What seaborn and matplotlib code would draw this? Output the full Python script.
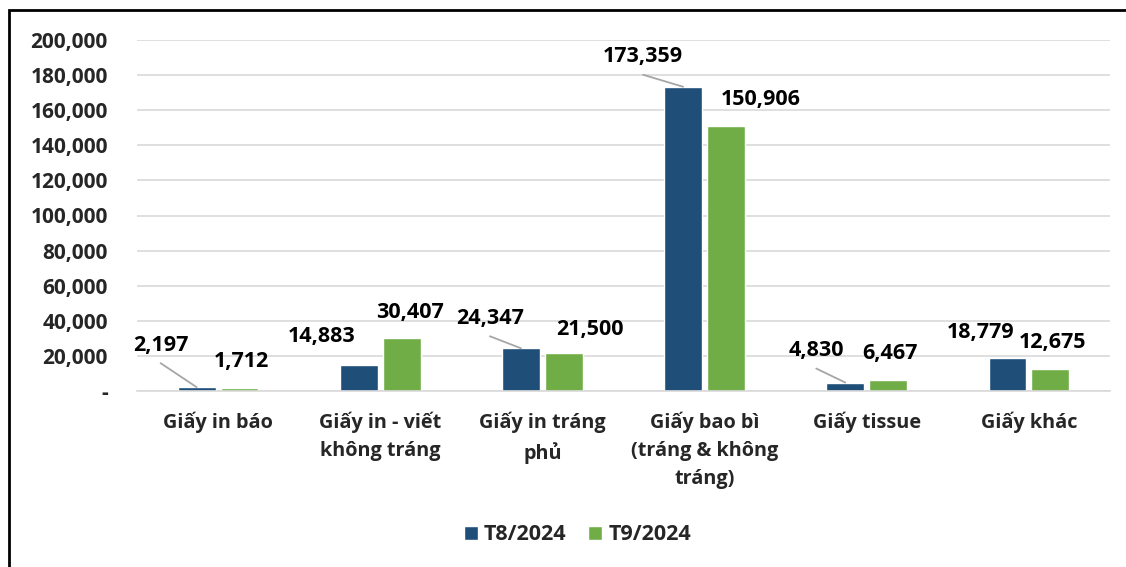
import matplotlib
matplotlib.use("Agg")
import matplotlib.pyplot as plt
import pandas as pd
import seaborn as sns
from matplotlib.patches import Rectangle

# số liệu (tấn)
categories = [
    "Giấy in báo",
    "Giấy in - viết\nkhông tráng",
    "Giấy in tráng\nphủ",
    "Giấy bao bì\n(tráng & không\ntráng)",
    "Giấy tissue",
    "Giấy khác",
]
series = ["T8/2024", "T9/2024"]
t8_values = [2197, 14883, 24347, 173359, 4830, 18779]
t9_values = [1712, 30407, 21500, 150906, 6467, 12675]
yticks = list(range(0, 200001, 20000))

colors = {"T8/2024": "#1F4E79", "T9/2024": "#70AD47"}

# vị trí nhãn so với đỉnh cột (pixel), theo thứ tự T8 rồi T9
label_offsets = {
    "T8/2024": [(-36, 42), (-37, 28), (-31, 30), (-40, 30), (-29, 32), (-27, 26)],
    "T9/2024": [(2, 26), (8, 25), (26, 24), (35, 27), (2, 26), (2, 26)],
}
leader = {"T8/2024": [True, False, True, True, True, False],
          "T9/2024": [False] * 6}

df = pd.DataFrame({
    "cat": categories * 2,
    "series": [series[0]] * 6 + [series[1]] * 6,
    "value": t8_values + t9_values,
})

sns.set_theme(style="white")
plt.rcParams["font.family"] = ["Open Sans", "DejaVu Sans"]
plt.rcParams["font.weight"] = "bold"

fig = plt.figure(figsize=(11.26, 5.67), dpi=100)
ax = fig.add_axes([137 / 1126, 1 - 391 / 567, (1110 - 137) / 1126, (391 - 40) / 567])

sns.barplot(data=df, x="cat", y="value", hue="series", order=categories,
            hue_order=series, palette=colors, width=0.53, gap=0.12,
            saturation=1, ax=ax, legend=True)

ax.set_ylim(0, 200000)
ax.set_yticks(yticks)
ax.set_yticklabels(["-" if v == 0 else f"{v:,}" for v in yticks],
                   fontsize=15, fontweight="bold")
ax.tick_params(axis="y", length=0, pad=21)
ax.tick_params(axis="x", length=0, pad=15, labelsize=14.3)
for lab in ax.get_xticklabels():
    lab.set_fontweight("bold")
    lab.set_linespacing(1.53)
ax.yaxis.grid(True, color="#D9D9D9", linewidth=1.2)
ax.set_axisbelow(True)
for s in ["top", "right", "left"]:
    ax.spines[s].set_visible(False)
ax.spines["bottom"].set_color("#D9D9D9")
ax.spines["bottom"].set_linewidth(1.2)
ax.set_xlabel("")
ax.set_ylabel("")

for name, cont in zip(series, ax.containers):
    for i, bar in enumerate(cont):
        x = bar.get_x() + bar.get_width() / 2
        h = bar.get_height()
        dx, dy = label_offsets[name][i]
        ax.annotate(f"{int(h):,}", xy=(x, h), xytext=(dx, dy),
                    textcoords="offset pixels", ha="center", va="center",
                    fontsize=15.5, fontweight="bold", color="black",
                    annotation_clip=False)
        if leader[name][i]:
            # đường dẫn từ mép dưới nhãn tới đỉnh cột
            ax.annotate("", xy=(x, h), xytext=(dx, dy - 18),
                        textcoords="offset pixels", annotation_clip=False,
                        arrowprops=dict(arrowstyle="-", color="#A6A6A6",
                                        lw=1.3, shrinkA=0, shrinkB=0))

leg = ax.legend(loc="center", bbox_to_anchor=(577.5 / 1126, 1 - 535 / 567),
                bbox_transform=fig.transFigure, ncol=2, frameon=False,
                fontsize=15.5, handlelength=0.65, handleheight=0.65,
                columnspacing=1.0, handletextpad=0.3)
for t in leg.get_texts():
    t.set_fontweight("bold")

fig.patches.append(Rectangle((9 / 1126, -0.05), 1.2, 1 - 10 / 567 + 0.05,
                             transform=fig.transFigure, fill=False,
                             edgecolor="black", linewidth=2))

fig.savefig("out.png", dpi=100)
